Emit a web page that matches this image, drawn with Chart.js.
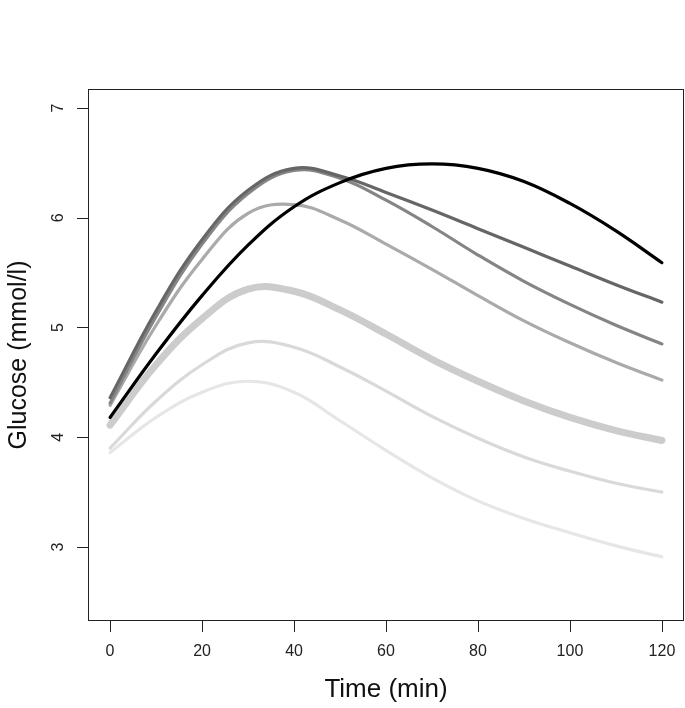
<!DOCTYPE html>
<html>
<head>
<meta charset="utf-8">
<script src="https://cdn.jsdelivr.net/npm/chart.js@4/dist/chart.umd.min.js"></script>
<style>
  html, body { margin: 0; padding: 0; background: #fff; }
  canvas { display: block; }
</style>
</head>
<body>
<canvas id="grafico" width="685" height="708"></canvas>
<script>
// tempos (min) e curvas de glicose (mmol/l)
var tempos = [0, 10, 20, 30, 40, 50, 60, 70, 80, 90, 100, 110, 120];
var curvaPreta  = [4.18, 4.76, 5.29, 5.75, 6.10, 6.32, 6.45, 6.49, 6.45, 6.33, 6.13, 5.88, 5.59];
var curvaEscura = [4.36, 5.15, 5.80, 6.25, 6.45, 6.38, 6.23, 6.07, 5.90, 5.73, 5.56, 5.39, 5.23];
var curvaMedia  = [4.31, 5.10, 5.76, 6.22, 6.43, 6.36, 6.16, 5.92, 5.66, 5.42, 5.21, 5.02, 4.85];
var curvaCinza  = [4.29, 5.02, 5.62, 6.04, 6.12, 5.98, 5.76, 5.53, 5.29, 5.06, 4.86, 4.68, 4.52];
var curvaGrossa = [4.11, 4.66, 5.08, 5.35, 5.33, 5.16, 4.94, 4.71, 4.51, 4.33, 4.18, 4.06, 3.97];
var curvaClara  = [3.90, 4.33, 4.66, 4.86, 4.82, 4.64, 4.42, 4.19, 3.99, 3.82, 3.69, 3.58, 3.50];
var curvaFraca  = [3.86, 4.18, 4.41, 4.51, 4.41, 4.15, 3.88, 3.63, 3.42, 3.26, 3.13, 3.01, 2.91];

var ticksX = [0, 20, 40, 60, 80, 100, 120];
var ticksY = [3, 4, 5, 6, 7];

var fonte = '"Liberation Sans", Arial, Helvetica, sans-serif';

function montarPontos(valores) {
    return valores.map(function(v, i) { return {x: tempos[i], y: v}; });
}

function serie(valores, cor, largura) {
    return {
        data: montarPontos(valores),
        borderColor: cor,
        borderWidth: largura,
        borderCapStyle: 'round',
        borderJoinStyle: 'round',
        pointRadius: 0,
        tension: 0.4,
        fill: false
    };
}

// desenha moldura, ticks e textos no estilo do R
var eixosR = {
    id: 'eixosR',
    afterDraw: function(chart) {
        var ctx = chart.ctx;
        var area = chart.chartArea;
        var sx = chart.scales.x;
        var sy = chart.scales.y;
        ctx.save();
        ctx.strokeStyle = '#222';
        ctx.lineWidth = 1;
        ctx.strokeRect(area.left + 0.5, area.top + 0.5, area.right - area.left - 1, area.bottom - area.top - 1);

        ctx.fillStyle = '#222';
        ctx.font = '16px ' + fonte;
        ctx.textAlign = 'center';
        ctx.textBaseline = 'middle';
        ctx.beginPath();
        ticksX.forEach(function(t) {
            var px = Math.round(sx.getPixelForValue(t)) + 0.5;
            ctx.moveTo(px, area.bottom);
            ctx.lineTo(px, area.bottom + 11);
        });
        ticksY.forEach(function(t) {
            var py = Math.round(sy.getPixelForValue(t)) + 0.5;
            ctx.moveTo(area.left, py);
            ctx.lineTo(area.left - 11, py);
        });
        ctx.stroke();

        ticksX.forEach(function(t) {
            ctx.fillText(String(t), sx.getPixelForValue(t), area.bottom + 31);
        });
        ticksY.forEach(function(t) {
            ctx.save();
            ctx.translate(area.left - 29, sy.getPixelForValue(t));
            ctx.rotate(-Math.PI / 2);
            ctx.fillText(String(t), 0, 0);
            ctx.restore();
        });

        ctx.fillStyle = '#111';
        ctx.font = '26px ' + fonte;
        ctx.fillText('Time (min)', (area.left + area.right) / 2, 690);
        ctx.font = '25px ' + fonte;
        ctx.save();
        ctx.translate(19, (area.top + area.bottom) / 2);
        ctx.rotate(-Math.PI / 2);
        ctx.fillText('Glucose (mmol/l)', 0, 0);
        ctx.restore();
        ctx.restore();
    }
};

var grafico = new Chart(document.getElementById('grafico').getContext('2d'), {
    type: 'line',
    data: {
        datasets: [
            serie(curvaPreta, '#000000', 3.2),
            serie(curvaEscura, '#666666', 3.2),
            serie(curvaMedia, '#858585', 3.2),
            serie(curvaCinza, '#aaaaaa', 3.2),
            serie(curvaGrossa, '#cccccc', 7),
            serie(curvaClara, '#d9d9d9', 3.2),
            serie(curvaFraca, '#e6e6e6', 3.2)
        ]
    },
    options: {
        responsive: false,
        animation: false,
        layout: { padding: { left: 88, top: 89, right: 1, bottom: 87 } },
        plugins: {
            legend: { display: false },
            tooltip: { enabled: false }
        },
        scales: {
            x: { type: 'linear', min: -4.8, max: 124.8, display: false },
            y: { type: 'linear', min: 2.325, max: 7.173, display: false }
        }
    },
    plugins: [eixosR]
});
</script>
</body>
</html>
